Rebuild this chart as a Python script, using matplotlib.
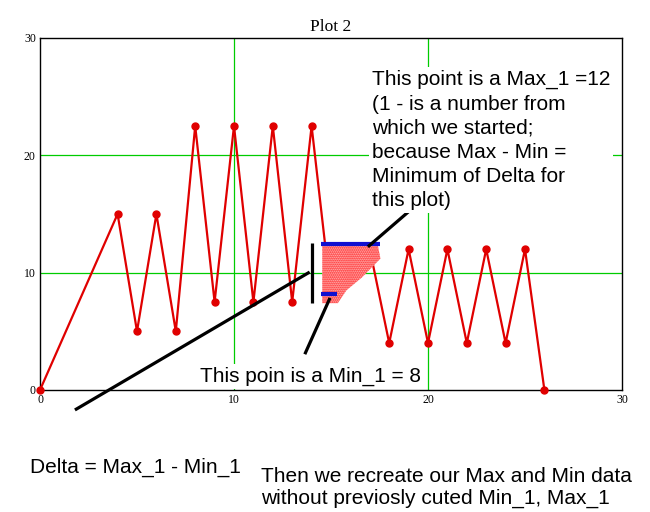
import matplotlib
matplotlib.use("Agg")
import matplotlib.pyplot as plt

# main series (Plot 2)
x_vals = [0, 4, 5, 6, 7, 8, 9, 10, 11, 12, 13, 14, 15, 17, 18, 19, 20, 21, 22, 23, 24, 25, 26]
y_vals = [0, 15, 5, 15, 5, 22.5, 7.5, 22.5, 7.5, 22.5, 7.5, 22.5, 8, 12, 4, 12, 4, 12, 4, 12, 4, 12, 0]

# scattered cloud between Min_1 and Max_1 (outline)
cloud_x = [14.55, 17.4, 17.55, 16.6, 15.8, 15.35, 14.55]
cloud_y = [12.45, 12.45, 11.2, 9.6, 8.5, 7.4, 7.4]

# Max_1 / Min_1 marker lines
max_x = [14.5, 17.5]
max_y = [12.45, 12.45]
min_x = [14.5, 15.3]
min_y = [8.15, 8.15]

# black pointer lines
delta_bar_x = [14.02, 14.02]
delta_bar_y = [7.4, 12.55]
delta_ptr_x = [1.8, 13.9]
delta_ptr_y = [-1.7, 10.05]
min_ptr_x = [13.65, 14.95]
min_ptr_y = [3.05, 7.85]
max_ptr_x = [19.0, 16.9]
max_ptr_y = [15.2, 12.2]

ticks = [0, 10, 20, 30]
grid_ticks = [10, 20]

fig = plt.figure(figsize=(6.5, 5.12), dpi=100)
ax = fig.add_axes([40 / 650, 1 - 390 / 512, 582 / 650, 352 / 512])

ax.set_xlim(0, 30)
ax.set_ylim(0, 30)
for v in grid_ticks:
    ax.axvline(v, color='#00cc00', lw=0.9, zorder=0)
    ax.axhline(v, color='#00cc00', lw=0.9, zorder=0)

ax.plot(x_vals, y_vals, color='#e00000', lw=1.6, marker='o', ms=5, zorder=3, clip_on=False)

ax.fill(cloud_x, cloud_y, facecolor='#ffd0d0', edgecolor='#ff0000', lw=0, hatch='........', zorder=4)

ax.plot(max_x, max_y, color='#1010d0', lw=3, zorder=5, solid_capstyle='butt')
ax.plot(min_x, min_y, color='#1010d0', lw=3, zorder=5, solid_capstyle='butt')

for lx, ly in [(delta_bar_x, delta_bar_y), (delta_ptr_x, delta_ptr_y),
               (min_ptr_x, min_ptr_y), (max_ptr_x, max_ptr_y)]:
    ax.plot(lx, ly, color='black', lw=2.3, zorder=6, clip_on=False, solid_capstyle='butt')

ax.set_xticks(ticks)
ax.set_yticks(ticks)
ax.tick_params(length=0, pad=3, labelsize=8.5)
for lab in ax.get_xticklabels() + ax.get_yticklabels():
    lab.set_fontfamily('Liberation Serif')
for sp in ax.spines.values():
    sp.set_linewidth(1)

ax.set_title('Plot 2', fontfamily='Liberation Serif', fontsize=12.5, pad=5)

sans = 'Liberation Sans'
fig.text(372 / 650, 1 - 70 / 512,
         "This point is a Max_1 =12\n(1 - is a number from\nwhich we started;\n"
         "because Max - Min =\nMinimum of Delta for\nthis plot)",
         fontfamily=sans, fontsize=15, linespacing=1.35, va='top', ha='left', zorder=7,
         bbox=dict(facecolor='white', edgecolor='none', pad=2))

fig.text(200 / 650, 1 - 367 / 512, "This poin is a Min_1 = 8",
         fontfamily=sans, fontsize=15, va='top', ha='left', zorder=7,
         bbox=dict(facecolor='white', edgecolor='none', pad=2))

fig.text(30 / 650, 1 - 458 / 512, "Delta = Max_1 - Min_1",
         fontfamily=sans, fontsize=15, va='top', ha='left')

fig.text(261 / 650, 1 - 467 / 512,
         "Then we recreate our Max and Min data\nwithout previosly cuted Min_1, Max_1",
         fontfamily=sans, fontsize=15, linespacing=1.16, va='top', ha='left')

fig.savefig('out.png', dpi=100)
